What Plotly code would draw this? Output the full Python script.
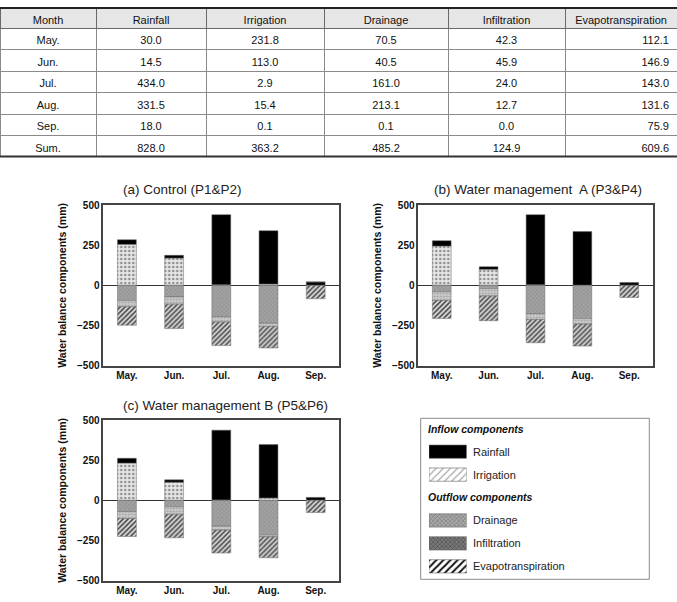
import plotly.graph_objects as go

W, H = 677, 602

# ---------------- data ----------------
months = ["May.", "Jun.", "Jul.", "Aug.", "Sep."]

table_header = ["Month", "Rainfall", "Irrigation", "Drainage", "Infiltration", "Evapotranspiration"]
table_months = ["May.", "Jun.", "Jul.", "Aug.", "Sep.", "Sum."]
tbl_rainfall = [30.0, 14.5, 434.0, 331.5, 18.0, 828.0]
tbl_irrigation = [231.8, 113.0, 2.9, 15.4, 0.1, 363.2]
tbl_drainage = [70.5, 40.5, 161.0, 213.1, 0.1, 485.2]
tbl_infiltration = [42.3, 45.9, 24.0, 12.7, 0.0, 124.9]
tbl_et = [112.1, 146.9, 143.0, 131.6, 75.9, 609.6]

# (a) Control (P1&P2)
rain_a = [29, 17, 437, 332, 21]
irr_a = [255, 170, 3, 8, 0.1]
drain_a = [95, 72, 195, 236, 0.5]
infil_a = [38, 45, 33, 19, 0]
et_a = [115, 152, 147, 135, 83]

# (b) Water management A (P3&P4)
rain_b = [33, 16, 437, 334, 17]
irr_b = [245, 100, 3, 0.5, 0.1]
drain_b = [40, 20, 176, 207, 0.5]
infil_b = [54, 46, 36, 34, 0]
et_b = [113, 154, 145, 137, 75]

# (c) Water management B (P5&P6) -- same as the table
rain_c = tbl_rainfall[:5]
irr_c = tbl_irrigation[:5]
drain_c = tbl_drainage[:5]
infil_c = tbl_infiltration[:5]
et_c = tbl_et[:5]

panel_titles = ["(a) Control (P1&P2)", "(b) Water management\u00a0 A (P3&P4)", "(c) Water management B (P5&P6)"]
legend_names = ["Rainfall", "Irrigation", "Drainage", "Infiltration", "Evapotranspiration"]
legend_slots = [0, 1, 3, 4, 5]
legend_swatch = [1, 1, 1, 1, 1]

# ---------------- styles ----------------
FONT = "Liberation Sans, Arial, sans-serif"
bar_style = {
    "Rainfall": dict(color="#000000"),
    "Irrigation": dict(color="#e2e2e2", pattern=dict(shape=".", fgcolor="#8f8f8f", bgcolor="#e6e6e6", size=4, solidity=0.3)),
    "Drainage": dict(color="#9c9c9c", pattern=dict(shape="x", fgcolor="#8a8a8a", bgcolor="#a2a2a2", size=3, solidity=0.3)),
    "Infiltration": dict(color="#c8c8c8", pattern=dict(shape=".", fgcolor="#a0a0a0", bgcolor="#cdcdcd", size=3, solidity=0.3)),
    "Evapotranspiration": dict(color="#999999", pattern=dict(shape="/", fgcolor="#4a4a4a", bgcolor="#d6d6d6", size=3.5, solidity=0.45)),
}
swatch_style = {
    "Rainfall": dict(color="#000000"),
    "Irrigation": dict(color="#ffffff", pattern=dict(shape="/", fgcolor="#a8a8a8", bgcolor="#ffffff", size=5, solidity=0.25)),
    "Drainage": dict(color="#a0a0a0", pattern=dict(shape="x", fgcolor="#6e6e6e", bgcolor="#a8a8a8", size=3, solidity=0.3)),
    "Infiltration": dict(color="#6a6a6a", pattern=dict(shape="x", fgcolor="#444444", bgcolor="#7a7a7a", size=3, solidity=0.35)),
    "Evapotranspiration": dict(color="#ffffff", pattern=dict(shape="/", fgcolor="#111111", bgcolor="#ffffff", size=5, solidity=0.4)),
}

def fx(px):
    return px / W

def fy(py):
    return 1 - py / H

fig = go.Figure()

# ---------------- table ----------------
def fmt(vals):
    return [f"{v:.1f}" for v in vals]

fig.add_trace(go.Table(
    domain=dict(x=[0, 1], y=[fy(157), fy(8)]),
    columnwidth=[96, 110, 118, 124, 117, 112],
    header=dict(
        values=table_header,
        align="center",
        fill=dict(color="#e6e6e6"),
        line=dict(color="#6a6a6a", width=1),
        font=dict(family=FONT, size=11, color="#111111"),
        height=20,
    ),
    cells=dict(
        values=[table_months, fmt(tbl_rainfall), fmt(tbl_irrigation), fmt(tbl_drainage),
                fmt(tbl_infiltration), fmt(tbl_et)],
        align=["center"] * 5 + ["right"],
        fill=dict(color="#ffffff"),
        line=dict(color="#8a8a8a", width=1),
        font=dict(family=FONT, size=11, color="#111111"),
        height=21.5,
    ),
))

# ---------------- bar panels ----------------
panels = [
    ("x", "y", [rain_a, irr_a, drain_a, infil_a, et_a]),
    ("x2", "y2", [rain_b, irr_b, drain_b, infil_b, et_b]),
    ("x3", "y3", [rain_c, irr_c, drain_c, infil_c, et_c]),
]
for xa, ya, (rain, irr, drain, infil, et) in panels:
    series = [
        ("Irrigation", irr, 1),
        ("Rainfall", rain, 1),
        ("Drainage", drain, -1),
        ("Infiltration", infil, -1),
        ("Evapotranspiration", et, -1),
    ]
    for name, vals, sign in series:
        fig.add_trace(go.Bar(
            x=months, y=[sign * v for v in vals], name=name, xaxis=xa, yaxis=ya,
            width=0.4, showlegend=False,
            marker=dict(line=dict(color="#6a6a6a", width=0.5), **bar_style[name]),
        ))

# legend swatches (drawn as bars on a hidden axis)
for name, slot, length in zip(legend_names, legend_slots, legend_swatch):
    fig.add_trace(go.Bar(
        x=[length], y=[slot], orientation="h", xaxis="x4", yaxis="y4", width=0.58,
        showlegend=False, hoverinfo="skip",
        marker=dict(line=dict(color="#666666", width=0.6), **swatch_style[name]),
    ))

axis_common = dict(showline=True, mirror=True, linecolor="#444444", linewidth=1.5,
                   showgrid=False, ticks="")
yaxis_common = dict(axis_common, range=[-500, 500], tickvals=[-500, -250, 0, 250, 500],
                    zeroline=True, zerolinecolor="#333333", zerolinewidth=1,
                    tickfont=dict(family=FONT, size=10, color="#111", weight="bold"),
                    title=dict(text="Water balance components (mm)", standoff=8,
                               font=dict(family=FONT, size=10.5, color="#111", weight="bold")))
xaxis_common = dict(axis_common, type="category",
                    tickfont=dict(family=FONT, size=10, color="#111", weight="bold"))

xa_dom = [fx(103.3), fx(339.3)]
xb_dom = [fx(418.3), fx(652.7)]
top_dom = [fy(365.7), fy(205)]
bot_dom = [fy(580.7), fy(420)]

fig.update_layout(
    width=W, height=H, autosize=False,
    template="none",
    margin=dict(l=0, r=0, t=0, b=0),
    paper_bgcolor="white", plot_bgcolor="white",
    font=dict(family=FONT, color="#222"),
    barmode="relative",
    showlegend=False,
    xaxis=dict(xaxis_common, domain=xa_dom, anchor="y"),
    yaxis=dict(yaxis_common, domain=top_dom, anchor="x"),
    xaxis2=dict(xaxis_common, domain=xb_dom, anchor="y2"),
    yaxis2=dict(yaxis_common, domain=top_dom, anchor="x2"),
    xaxis3=dict(xaxis_common, domain=xa_dom, anchor="y3"),
    yaxis3=dict(yaxis_common, domain=bot_dom, anchor="x3"),
    xaxis4=dict(domain=[fx(429), fx(466.7)], range=[0, 1], visible=False, anchor="y4", fixedrange=True),
    yaxis4=dict(domain=[fy(577.8), fy(440.2)], range=[5.5, -0.5], visible=False, anchor="x4", fixedrange=True),
)

# panel titles
title_pos = [(182, 189), (538, 189), (226, 405)]
for t, (px, py) in zip(panel_titles, title_pos):
    fig.add_annotation(text=t, x=fx(px), y=fy(py), xref="paper", yref="paper",
                       xanchor="center", yanchor="middle", showarrow=False,
                       font=dict(family=FONT, size=13.5, color="#222"))

# legend box
fig.add_shape(type="rect", xref="paper", yref="paper",
              x0=fx(420.7), x1=fx(649.3), y0=fy(579.3), y1=fy(418.3),
              line=dict(color="#8a8a8a", width=1))
fig.add_annotation(text="<b><i>Inflow components</i></b>", x=fx(426), y=fy(428.5),
                   xref="paper", yref="paper", xanchor="left", yanchor="middle",
                   showarrow=False, font=dict(family=FONT, size=10.5, color="#111"))
fig.add_annotation(text="<b><i>Outflow components</i></b>", x=fx(426), y=fy(497.5),
                   xref="paper", yref="paper", xanchor="left", yanchor="middle",
                   showarrow=False, font=dict(family=FONT, size=10.5, color="#111"))
for name, slot in zip(legend_names, legend_slots):
    fig.add_annotation(text=name, x=fx(471), y=slot, xref="paper", yref="y4",
                       xanchor="left", yanchor="middle", showarrow=False,
                       font=dict(family=FONT, size=11, color="#222"))

# table outer rules
fig.add_shape(type="line", xref="paper", yref="paper", x0=0, x1=1, y0=fy(8), y1=fy(8),
              line=dict(color="#222", width=2), layer="above")
fig.add_shape(type="line", xref="paper", yref="paper", x0=0, x1=1, y0=fy(156.5), y1=fy(156.5),
              line=dict(color="#333", width=2), layer="above")

fig.write_html("out.html")
